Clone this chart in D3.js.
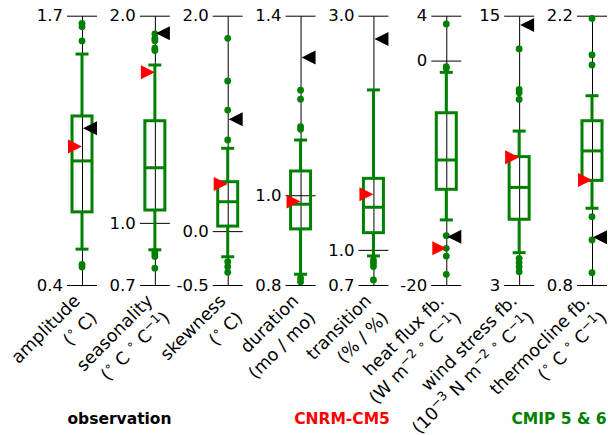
<!DOCTYPE html>
<html>
<head>
<meta charset="utf-8">
<script src="https://cdn.jsdelivr.net/npm/d3@7"></script>
<style>
  body { margin: 0; background: #fff; }
  svg { font-family: "DejaVu Sans", sans-serif; }
</style>
</head>
<body>
<div id="chart"></div>
<script>
// metric names and units (^{..} marks a superscript)
const metrics = ["amplitude", "seasonality", "skewness", "duration", "transition",
                 "heat flux fb.", "wind stress fb.", "thermocline fb."];
const units = ["(^{∘} C)", "(^{∘} C ^{∘} C^{−1})", "(^{∘} C)", "(mo / mo)", "(% / %)",
               "(W m^{−2} ^{∘} C^{−1})", "(10^{−3} N m^{−2} ^{∘} C^{−1})", "(^{∘} C ^{∘} C^{−1})"];

// axis limits and ticks of each panel
const yMin = [0.4, 0.7, -0.5, 0.8, 0.7, -20, 3, 0.8];
const yMax = [1.7, 2.0, 2.0, 1.4, 3.0, 4, 15, 2.2];
const tickVals = [[0.4, 1.7], [0.7, 1.0, 2.0], [-0.5, 0.0, 2.0], [0.8, 1.0, 1.4],
                  [0.7, 1.0, 3.0], [-20, 0, 4], [3, 15], [0.8, 2.2]];
const tickLabels = [["0.4", "1.7"], ["0.7", "1.0", "2.0"], ["-0.5", "0.0", "2.0"], ["0.8", "1.0", "1.4"],
                    ["0.7", "1.0", "3.0"], ["-20", "0", "4"], ["3", "15"], ["0.8", "2.2"]];

// CMIP 5 & 6 box plot statistics
const whiskLo = [0.573, 0.870, -0.238, 0.824, 0.948, -14.2, 4.44, 1.199];
const q1      = [0.753, 1.062, 0.047, 0.925, 1.147, -11.47, 5.93, 1.344];
const median  = [0.999, 1.266, 0.273, 0.980, 1.364, -8.86, 7.35, 1.497];
const q3      = [1.216, 1.493, 0.459, 1.054, 1.611, -4.65, 8.72, 1.654];
const whiskHi = [1.515, 1.762, 0.769, 1.123, 2.366, -1.05, 9.86, 1.784];
const outliers = [
  [1.663, 1.647, 1.578, 0.50, 0.487],
  [1.912, 1.891, 1.879, 1.843, 1.832, 0.862, 0.850, 0.837, 0.781],
  [1.79, 1.394, 1.124, 0.846, -0.284, -0.33, -0.382],
  [1.234, 1.214, 1.153, 1.147, 0.815, 0.807],
  [0.914, 0.886, 0.857, 0.743],
  [3.26, -0.54, -0.69, -15.6, -16.73, -17.42, -19.05],
  [13.52, 11.72, 11.57, 11.27, 4.19, 4.0, 3.81, 3.59],
  [2.186, 1.996, 1.944, 1.155, 1.034, 0.864]
];

// single model and observation values
const cnrm = [1.068, 1.727, 0.437, 0.986, 1.475, -16.73, 8.69, 1.346];
const obs  = [1.157, 1.915, 1.038, 1.307, 2.801, -15.7, 14.59, 1.048];

const legendNames = ["observation", "CNRM-CM5", "CMIP 5 & 6"];
const legendColors = ["#000000", "#ff0000", "#008000"];

const width = 608, height = 435;
const yTop = 15.7, yBottom = 285;
const green = "#008000";

const svg = d3.select("#chart").append("svg")
    .attr("width", width)
    .attr("height", height);

const xPanel = d3.scalePoint()
    .domain(d3.range(metrics.length))
    .range([82, 592]);

// write a string with ^{..} superscripts into a text element
function richText(sel, str) {
    const parts = str.split(/(\^\{[^}]*\})/).filter(s => s.length);
    let raised = false;
    parts.forEach(p => {
        if (p.startsWith("^{")) {
            sel.append("tspan")
                .attr("dy", raised ? 0 : -7)
                .attr("font-size", 12.5)
                .text(p.slice(2, -1));
            raised = true;
        } else {
            sel.append("tspan")
                .attr("dy", raised ? 7 : 0)
                .text(p);
            raised = false;
        }
    });
}

metrics.forEach((name, i) => {
    const cx = xPanel(i);
    const y = d3.scaleLinear()
        .domain([yMin[i], yMax[i]])
        .range([yBottom, yTop]);

    const g = svg.append("g")
        .attr("transform", `translate(${cx},0)`);

    // axis with ticks on both sides
    const axis = d3.axisLeft(y)
        .tickValues(tickVals[i])
        .tickFormat((d, k) => tickLabels[i][k])
        .tickSize(15)
        .tickSizeOuter(0)
        .tickPadding(4);
    const ax = g.append("g").call(axis);
    ax.select(".domain").attr("stroke", "#000").attr("stroke-width", 1);
    ax.selectAll(".tick line").attr("x1", 15).attr("stroke", "#000");
    ax.selectAll(".tick text")
        .attr("font-size", 16.5)
        .attr("font-family", "DejaVu Sans")
        .attr("fill", "#000");

    // box plot
    const bw = 10, cap = 6.5;
    const box = g.append("g")
        .attr("stroke", green)
        .attr("stroke-width", 3)
        .attr("fill", "none");
    box.append("line")
        .attr("x1", 0).attr("x2", 0)
        .attr("y1", y(whiskHi[i])).attr("y2", y(q3[i]));
    box.append("line")
        .attr("x1", 0).attr("x2", 0)
        .attr("y1", y(q1[i])).attr("y2", y(whiskLo[i]));
    [whiskHi[i], whiskLo[i]].forEach(v => {
        box.append("line")
            .attr("x1", -cap).attr("x2", cap)
            .attr("y1", y(v)).attr("y2", y(v));
    });
    box.append("rect")
        .attr("x", -bw)
        .attr("width", 2 * bw)
        .attr("y", y(q3[i]))
        .attr("height", y(q1[i]) - y(q3[i]));
    box.append("line")
        .attr("x1", -bw).attr("x2", bw)
        .attr("y1", y(median[i])).attr("y2", y(median[i]));

    g.selectAll("circle.out")
        .data(outliers[i])
        .join("circle")
        .attr("class", "out")
        .attr("cx", 0)
        .attr("cy", d => y(d))
        .attr("r", 3.4)
        .attr("fill", green);

    // CNRM-CM5 (red, pointing right) and observation (black, pointing left)
    const ty = y(cnrm[i]);
    g.append("path")
        .attr("d", `M0,${ty} L-14,${ty - 7} L-14,${ty + 7} Z`)
        .attr("fill", "#ff0000");
    const oy = y(obs[i]);
    g.append("path")
        .attr("d", `M1,${oy} L15,${oy - 7} L15,${oy + 7} Z`)
        .attr("fill", "#000");

    // rotated two-line label
    const lab = svg.append("g")
        .attr("transform", `translate(${cx - 1},302) rotate(-45)`)
        .attr("font-size", 17.5)
        .attr("text-anchor", "end")
        .attr("fill", "#000");
    lab.append("text").attr("x", 0).attr("y", 0).text(name);
    const t2 = lab.append("text").attr("x", 0).attr("y", 24);
    richText(t2, units[i]);
});

// legend texts
const legendX = [119.5, 342, 559];
svg.selectAll("text.legend")
    .data(legendNames)
    .join("text")
    .attr("class", "legend")
    .attr("x", (d, i) => legendX[i])
    .attr("y", 424)
    .attr("text-anchor", "middle")
    .attr("font-size", 15.5)
    .attr("font-weight", "bold")
    .attr("fill", (d, i) => legendColors[i])
    .text(d => d);
</script>
</body>
</html>
